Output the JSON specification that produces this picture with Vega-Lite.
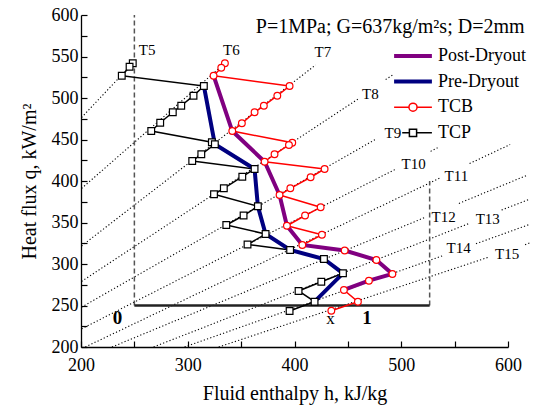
{
  "$schema": "https://vega.github.io/schema/vega-lite/v6.json",
  "width": 427,
  "height": 332,
  "autosize": "none",
  "padding": {"left": 81, "top": 15, "right": 36, "bottom": 59},
  "config": {"font": "Liberation Serif", "view": {"stroke": null}},
  "datasets": {
    "pts": [
      {"s": "Post-Dryout", "i": 1, "h": 324.2, "q": 526.9},
      {"s": "Post-Dryout", "i": 2, "h": 341.7, "q": 460.2},
      {"s": "Post-Dryout", "i": 3, "h": 372.0, "q": 423.2},
      {"s": "Post-Dryout", "i": 4, "h": 386.0, "q": 383.1},
      {"s": "Post-Dryout", "i": 5, "h": 392.9, "q": 346.1},
      {"s": "Post-Dryout", "i": 6, "h": 407.3, "q": 322.9},
      {"s": "Post-Dryout", "i": 7, "h": 447.0, "q": 316.3},
      {"s": "Post-Dryout", "i": 8, "h": 476.7, "q": 304.8},
      {"s": "Post-Dryout", "i": 9, "h": 491.7, "q": 288.0},
      {"s": "Post-Dryout", "i": 10, "h": 469.7, "q": 279.9},
      {"s": "Post-Dryout", "i": 11, "h": 446.3, "q": 268.7},
      {"s": "Pre-Dryout", "i": 1, "h": 315.1, "q": 514.5},
      {"s": "Pre-Dryout", "i": 2, "h": 325.4, "q": 444.2},
      {"s": "Pre-Dryout", "i": 3, "h": 362.6, "q": 414.5},
      {"s": "Pre-Dryout", "i": 4, "h": 365.7, "q": 369.5},
      {"s": "Pre-Dryout", "i": 5, "h": 372.9, "q": 336.1},
      {"s": "Pre-Dryout", "i": 6, "h": 395.9, "q": 316.9},
      {"s": "Pre-Dryout", "i": 7, "h": 427.6, "q": 306.0},
      {"s": "Pre-Dryout", "i": 8, "h": 445.4, "q": 288.8},
      {"s": "Pre-Dryout", "i": 9, "h": 418.8, "q": 254.6},
      {"s": "TC_P", "i": 1, "h": 248.5, "q": 541.8},
      {"s": "TC_P", "i": 2, "h": 245.5, "q": 537.7},
      {"s": "TC_P", "i": 3, "h": 238.2, "q": 526.9},
      {"s": "TC_P", "i": 4, "h": 315.1, "q": 514.5},
      {"s": "TC_P", "i": 5, "h": 305.4, "q": 502.8},
      {"s": "TC_P", "i": 6, "h": 293.9, "q": 490.7},
      {"s": "TC_P", "i": 7, "h": 286.0, "q": 482.8},
      {"s": "TC_P", "i": 8, "h": 274.2, "q": 470.2},
      {"s": "TC_P", "i": 9, "h": 265.8, "q": 460.2},
      {"s": "TC_P", "i": 10, "h": 322.6, "q": 446.6},
      {"s": "TC_P", "i": 11, "h": 325.4, "q": 444.2},
      {"s": "TC_P", "i": 12, "h": 312.7, "q": 432.2},
      {"s": "TC_P", "i": 13, "h": 304.2, "q": 424.1},
      {"s": "TC_P", "i": 14, "h": 362.6, "q": 414.5},
      {"s": "TC_P", "i": 15, "h": 351.1, "q": 405.2},
      {"s": "TC_P", "i": 16, "h": 333.8, "q": 391.2},
      {"s": "TC_P", "i": 17, "h": 324.6, "q": 384.0},
      {"s": "TC_P", "i": 18, "h": 365.7, "q": 369.5},
      {"s": "TC_P", "i": 19, "h": 352.3, "q": 358.4},
      {"s": "TC_P", "i": 20, "h": 336.1, "q": 347.0},
      {"s": "TC_P", "i": 21, "h": 372.9, "q": 336.1},
      {"s": "TC_P", "i": 22, "h": 356.0, "q": 323.5},
      {"s": "TC_P", "i": 23, "h": 395.9, "q": 316.9},
      {"s": "TC_P", "i": 24, "h": 427.6, "q": 306.0},
      {"s": "TC_P", "i": 25, "h": 445.4, "q": 288.8},
      {"s": "TC_P", "i": 26, "h": 425.1, "q": 278.7},
      {"s": "TC_P", "i": 27, "h": 403.8, "q": 267.5},
      {"s": "TC_P", "i": 28, "h": 418.8, "q": 254.6},
      {"s": "TC_P", "i": 29, "h": 395.4, "q": 243.4},
      {"s": "TC_B", "i": 1, "h": 334.8, "q": 541.8},
      {"s": "TC_B", "i": 2, "h": 331.4, "q": 536.5},
      {"s": "TC_B", "i": 3, "h": 324.2, "q": 526.9},
      {"s": "TC_B", "i": 4, "h": 395.4, "q": 514.5},
      {"s": "TC_B", "i": 5, "h": 383.9, "q": 502.8},
      {"s": "TC_B", "i": 6, "h": 371.3, "q": 490.7},
      {"s": "TC_B", "i": 7, "h": 362.6, "q": 482.8},
      {"s": "TC_B", "i": 8, "h": 350.7, "q": 469.5},
      {"s": "TC_B", "i": 9, "h": 341.7, "q": 460.2},
      {"s": "TC_B", "i": 10, "h": 397.9, "q": 446.1},
      {"s": "TC_B", "i": 11, "h": 394.8, "q": 443.4},
      {"s": "TC_B", "i": 12, "h": 381.3, "q": 432.2},
      {"s": "TC_B", "i": 13, "h": 372.0, "q": 423.2},
      {"s": "TC_B", "i": 14, "h": 428.2, "q": 414.5},
      {"s": "TC_B", "i": 15, "h": 415.1, "q": 404.5},
      {"s": "TC_B", "i": 16, "h": 396.1, "q": 391.2},
      {"s": "TC_B", "i": 17, "h": 386.0, "q": 383.1},
      {"s": "TC_B", "i": 18, "h": 424.5, "q": 368.3},
      {"s": "TC_B", "i": 19, "h": 409.9, "q": 358.4},
      {"s": "TC_B", "i": 20, "h": 392.9, "q": 346.1},
      {"s": "TC_B", "i": 21, "h": 425.7, "q": 335.3},
      {"s": "TC_B", "i": 22, "h": 407.3, "q": 322.9},
      {"s": "TC_B", "i": 23, "h": 447.0, "q": 316.3},
      {"s": "TC_B", "i": 24, "h": 476.7, "q": 304.8},
      {"s": "TC_B", "i": 25, "h": 491.7, "q": 288.0},
      {"s": "TC_B", "i": 26, "h": 469.7, "q": 279.9},
      {"s": "TC_B", "i": 27, "h": 446.3, "q": 268.7},
      {"s": "TC_B", "i": 28, "h": 459.4, "q": 254.6},
      {"s": "TC_B", "i": 29, "h": 434.5, "q": 243.7}
    ],
    "iso": [
      {"seg": "T5", "i": 0, "h": 200.5, "q": 476.5}, {"seg": "T5", "i": 1, "h": 248.5, "q": 541.8},
      {"seg": "T6", "i": 0, "h": 200.5, "q": 391.0}, {"seg": "T6", "i": 1, "h": 334.8, "q": 541.8},
      {"seg": "T7", "i": 0, "h": 200.5, "q": 321.7}, {"seg": "T7", "i": 1, "h": 419.8, "q": 539.8},
      {"seg": "T8a", "i": 0, "h": 200.5, "q": 279.0}, {"seg": "T8a", "i": 1, "h": 461.0, "q": 500.0},
      {"seg": "T8b", "i": 0, "h": 485.4, "q": 522.2}, {"seg": "T8b", "i": 1, "h": 492.0, "q": 527.8},
      {"seg": "T9", "i": 0, "h": 200.5, "q": 248.0}, {"seg": "T9", "i": 1, "h": 477.0, "q": 451.0},
      {"seg": "T10a", "i": 0, "h": 200.5, "q": 221.8}, {"seg": "T10a", "i": 1, "h": 494.7, "q": 414.2},
      {"seg": "T10b", "i": 0, "h": 527.5, "q": 435.7}, {"seg": "T10b", "i": 1, "h": 534.0, "q": 440.0},
      {"seg": "T11a", "i": 0, "h": 204.0, "q": 200.0}, {"seg": "T11a", "i": 1, "h": 537.0, "q": 404.0},
      {"seg": "T11b", "i": 0, "h": 564.0, "q": 421.0}, {"seg": "T11b", "i": 1, "h": 602.0, "q": 444.0},
      {"seg": "T12a", "i": 0, "h": 229.0, "q": 200.0}, {"seg": "T12a", "i": 1, "h": 522.0, "q": 356.0},
      {"seg": "T12b", "i": 0, "h": 554.0, "q": 373.0}, {"seg": "T12b", "i": 1, "h": 618.0, "q": 407.0},
      {"seg": "T13a", "i": 0, "h": 268.0, "q": 200.0}, {"seg": "T13a", "i": 1, "h": 564.0, "q": 349.0},
      {"seg": "T13b", "i": 0, "h": 594.0, "q": 365.0}, {"seg": "T13b", "i": 1, "h": 620.0, "q": 378.0},
      {"seg": "T14a", "i": 0, "h": 297.0, "q": 200.0}, {"seg": "T14a", "i": 1, "h": 540.0, "q": 310.5},
      {"seg": "T14b", "i": 0, "h": 570.0, "q": 324.4}, {"seg": "T14b", "i": 1, "h": 620.0, "q": 347.6},
      {"seg": "T15a", "i": 0, "h": 329.0, "q": 200.0}, {"seg": "T15a", "i": 1, "h": 582.0, "q": 308.3},
      {"seg": "T15b", "i": 0, "h": 616.0, "q": 323.3}, {"seg": "T15b", "i": 1, "h": 620.0, "q": 325.3}
    ],
    "guides": [
      {"g": "L", "i": 0, "h": 250, "q": 250}, {"g": "L", "i": 1, "h": 250, "q": 600},
      {"g": "R", "i": 0, "h": 526.6, "q": 250}, {"g": "R", "i": 1, "h": 526.6, "q": 400}
    ],
    "qaxis": [{"i": 0, "h": 250, "q": 250}, {"i": 1, "h": 526.6, "q": 250}],
    "qticks": [{"h": 250}, {"h": 305.3}, {"h": 360.6}, {"h": 416}, {"h": 471.3}, {"h": 526.6}],
    "tlabels": [
      {"t": "T5", "h": 262.0, "q": 557.8},
      {"t": "T6", "h": 340.8, "q": 557.8},
      {"t": "T7", "h": 426.6, "q": 555.4},
      {"t": "T8", "h": 471.1, "q": 504.8},
      {"t": "T9", "h": 492.2, "q": 458.4},
      {"t": "T10", "h": 511.6, "q": 420.5},
      {"t": "T11", "h": 551.6, "q": 406.0},
      {"t": "T12", "h": 539.7, "q": 357.2},
      {"t": "T13", "h": 581.0, "q": 354.2},
      {"t": "T14", "h": 553.8, "q": 318.7},
      {"t": "T15", "h": 599.2, "q": 312.0}
    ],
    "note": [{"t": "P=1MPa; G=637kg/m²s; D=2mm", "h": 489.6, "q": 585.5}],
    "qbold": [{"t": "0", "h": 234.2, "q": 235.5}, {"t": "1", "h": 468.0, "q": 234.6}],
    "qx": [{"t": "x", "h": 433.8, "q": 234.3}]
  },
  "encoding": {
    "x": {
      "field": "h", "type": "quantitative",
      "scale": {"domain": [200, 600], "nice": false, "zero": false},
      "axis": {
        "values": [200, 250, 300, 350, 400, 450, 500, 550, 600],
        "labelExpr": "datum.value % 100 === 0 ? datum.label : ''",
        "title": "Fluid enthalpy h, kJ/kg",
        "grid": false, "tickSize": -6, "tickWidth": 1.2, "tickColor": "#000",
        "domainColor": "#000", "domainWidth": 1.3,
        "labelFont": "Liberation Serif", "labelFontSize": 18, "labelColor": "#000", "labelPadding": 15,
        "labelFlush": false, "labelOverlap": false,
        "titleFont": "Liberation Serif", "titleFontSize": 20, "titleFontWeight": "normal", "titleColor": "#000", "titlePadding": 9
      }
    },
    "y": {
      "field": "q", "type": "quantitative",
      "scale": {"domain": [200, 600], "nice": false, "zero": false},
      "axis": {
        "values": [200, 225, 250, 275, 300, 325, 350, 375, 400, 425, 450, 475, 500, 525, 550, 575, 600],
        "labelExpr": "datum.value % 50 === 0 ? datum.label : ''",
        "title": "Heat flux q, kW/m²",
        "grid": false, "tickSize": -6, "tickWidth": 1.2, "tickColor": "#000",
        "domainColor": "#000", "domainWidth": 1.3,
        "labelFont": "Liberation Serif", "labelFontSize": 18, "labelColor": "#000", "labelPadding": 9,
        "labelFlush": false, "labelOverlap": false,
        "titleFont": "Liberation Serif", "titleFontSize": 20, "titleFontWeight": "normal", "titleColor": "#000", "titlePadding": 12
      }
    }
  },
  "layer": [
    {
      "data": {"name": "iso"},
      "mark": {"type": "line", "color": "#000", "strokeWidth": 1.1, "strokeDash": [1.2, 2.2]},
      "encoding": {"detail": {"field": "seg"}, "order": {"field": "i"}}
    },
    {
      "data": {"name": "guides"},
      "mark": {"type": "line", "color": "#555", "strokeWidth": 1.5, "strokeDash": [5, 3]},
      "encoding": {"detail": {"field": "g"}, "order": {"field": "i"}}
    },
    {
      "data": {"name": "qaxis"},
      "mark": {"type": "line", "color": "#222", "strokeWidth": 2.5},
      "encoding": {"order": {"field": "i"}}
    },
    {
      "data": {"name": "qticks"},
      "mark": {"type": "rule", "color": "#222", "strokeWidth": 1.2},
      "encoding": {"y": {"datum": 245.5}, "y2": {"datum": 254.5}}
    },
    {
      "data": {"name": "pts"},
      "transform": [{"filter": {"field": "s", "oneOf": ["TC_B", "TC_P"]}}],
      "mark": {"type": "line", "strokeWidth": 1.5},
      "encoding": {
        "order": {"field": "i"},
        "color": {
          "field": "s", "type": "nominal",
          "scale": {"domain": ["Post-Dryout", "Pre-Dryout", "TC_B", "TC_P"], "range": ["#800080", "#000080", "#ff0000", "#000000"]},
          "legend": {
            "title": null, "orient": "none", "legendX": 321, "legendY": 30,
            "labelFontSize": 18, "labelColor": "#000", "labelFont": "Liberation Serif",
            "symbolSize": 324, "labelOffset": 16, "rowPadding": 7.6, "padding": 2,
            "labelExpr": "datum.label == 'TC_B' ? 'TCB' : datum.label == 'TC_P' ? 'TCP' : datum.label",
            "encode": {"symbols": {"update": {
              "shape": {"signal": "datum.value == 'TC_B' ? 'M-2.1,0H-0.45M0.45,0H2.1M-0.45,0A0.45,0.45,0,1,0,0.45,0A0.45,0.45,0,1,0,-0.45,0Z' : datum.value == 'TC_P' ? 'M-1.2,0H-0.4M0.4,0H2.1M-0.4,-0.4H0.4V0.4H-0.4Z' : 'M-2.1,0H2.1'"},
              "fill": {"value": "white"},
              "stroke": {"scale": "color", "field": "value"},
              "strokeWidth": {"signal": "datum.value == 'TC_B' || datum.value == 'TC_P' ? 1.5 : 4"},
              "opacity": {"value": 1}
            }}}
          }
        }
      }
    },
    {
      "data": {"name": "pts"},
      "transform": [{"filter": {"field": "s", "oneOf": ["Post-Dryout", "Pre-Dryout"]}}],
      "mark": {"type": "line", "strokeWidth": 4},
      "encoding": {
        "order": {"field": "i"},
        "color": {
          "field": "s", "type": "nominal",
          "scale": {"domain": ["Post-Dryout", "Pre-Dryout", "TC_B", "TC_P"], "range": ["#800080", "#000080", "#ff0000", "#000000"]}
        }
      }
    },
    {
      "data": {"name": "pts"},
      "transform": [{"filter": {"field": "s", "oneOf": ["TC_B", "TC_P"]}}],
      "mark": {"type": "point", "filled": false, "fill": "white", "strokeWidth": 1.2, "size": 45, "opacity": 1},
      "encoding": {
        "color": {
          "field": "s", "type": "nominal",
          "scale": {"domain": ["Post-Dryout", "Pre-Dryout", "TC_B", "TC_P"], "range": ["#800080", "#000080", "#ff0000", "#000000"]}
        },
        "shape": {"field": "s", "type": "nominal", "scale": {"domain": ["TC_B", "TC_P"], "range": ["circle", "square"]}, "legend": null}
      }
    },
    {
      "data": {"name": "tlabels"},
      "mark": {"type": "text", "font": "Liberation Serif", "fontSize": 15, "color": "#000", "align": "center", "baseline": "middle"},
      "encoding": {"text": {"field": "t"}}
    },
    {
      "data": {"name": "note"},
      "mark": {"type": "text", "font": "Liberation Serif", "fontSize": 20, "color": "#000", "align": "center", "baseline": "middle"},
      "encoding": {"text": {"field": "t"}}
    },
    {
      "data": {"name": "qbold"},
      "mark": {"type": "text", "font": "Liberation Serif", "fontSize": 19, "fontWeight": "bold", "color": "#000", "align": "center", "baseline": "middle"},
      "encoding": {"text": {"field": "t"}}
    },
    {
      "data": {"name": "qx"},
      "mark": {"type": "text", "font": "Liberation Serif", "fontSize": 17, "color": "#000", "align": "center", "baseline": "middle"},
      "encoding": {"text": {"field": "t"}}
    }
  ]
}
